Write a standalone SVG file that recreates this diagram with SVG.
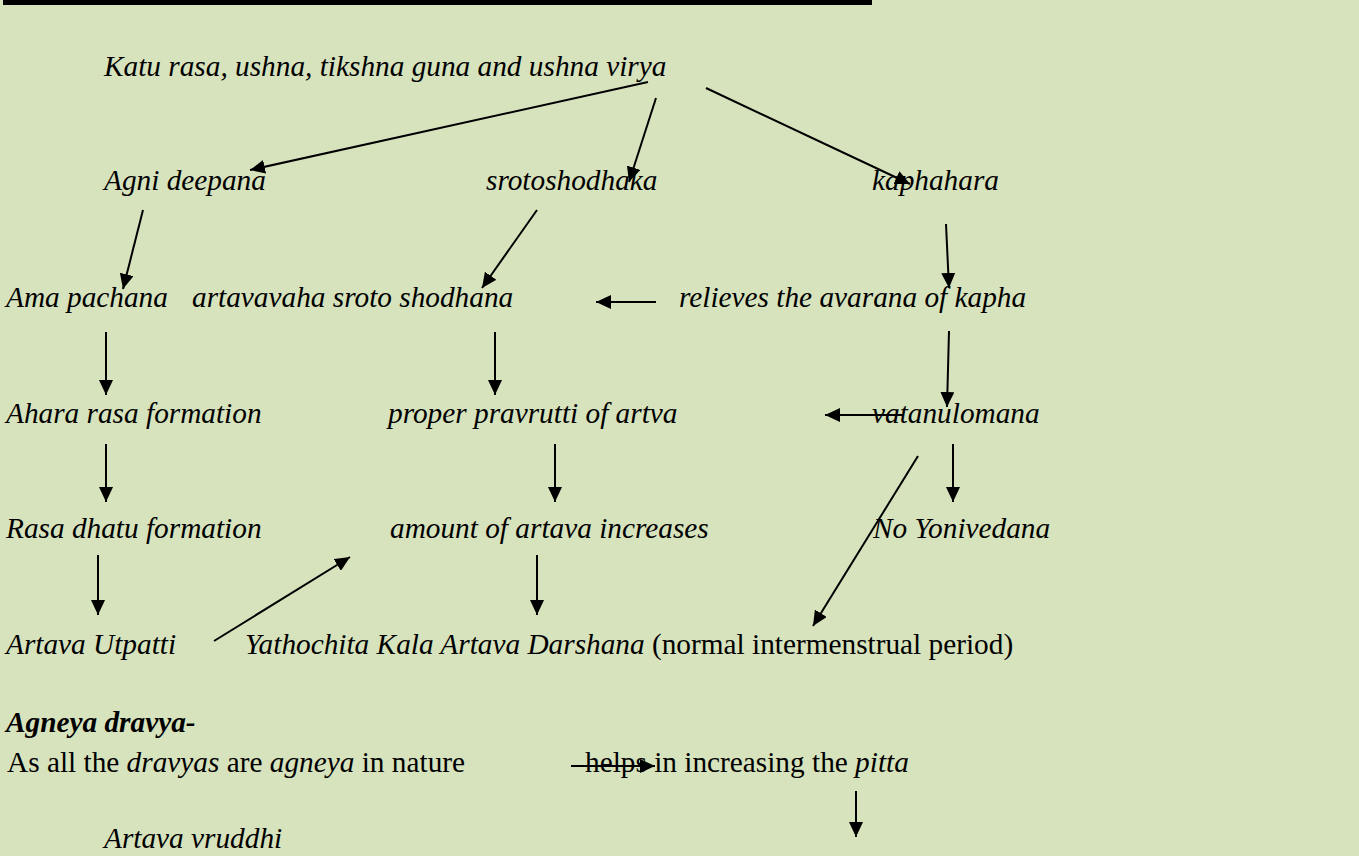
<svg xmlns="http://www.w3.org/2000/svg" width="1359" height="856" viewBox="0 0 1359 856">
<style>
text{font-family:"Liberation Serif","Times New Roman",serif;font-size:29.3px;fill:#000}
.i{font-style:italic}
.n{font-style:normal}
.b{font-weight:bold}
#connectors line{stroke:#000;stroke-width:2;marker-end:url(#ah)}
</style>
<defs>
<marker id="ah" markerUnits="userSpaceOnUse" markerWidth="16" markerHeight="14" refX="15" refY="7" orient="auto"><path d="M0,0L15,7L0,14z" fill="#000"/></marker>
</defs>
<rect width="1359" height="856" fill="#D7E3BD"/>
<rect x="3" y="0" width="869" height="5" fill="#000"/>

<g id="n-top"><text class="i" x="104" y="76">Katu rasa, ushna, tikshna guna and ushna virya</text></g>
<g id="n-agni"><text class="i" x="104" y="190">Agni deepana</text></g>
<g id="n-sroto"><text class="i" x="486" y="190">srotoshodhaka</text></g>
<g id="n-kapha"><text class="i" x="872" y="190">kaphahara</text></g>
<g id="n-ama"><text class="i" x="6" y="307">Ama pachana</text></g>
<g id="n-artavavaha"><text class="i" x="192" y="307">artavavaha sroto shodhana</text></g>
<g id="n-relieves"><text class="i" x="679" y="307">relieves the avarana of kapha</text></g>
<g id="n-ahara"><text class="i" x="6" y="423">Ahara rasa formation</text></g>
<g id="n-proper"><text class="i" x="388" y="423">proper pravrutti of artva</text></g>
<g id="n-vata"><text class="i" x="872" y="423">vatanulomana</text></g>
<g id="n-rasa"><text class="i" x="6" y="538">Rasa dhatu formation</text></g>
<g id="n-amount"><text class="i" x="390" y="538">amount of artava increases</text></g>
<g id="n-noyoni"><text class="i" x="873" y="538">No Yonivedana</text></g>
<g id="n-utpatti"><text class="i" x="6" y="654">Artava Utpatti</text></g>
<g id="n-yatho"><text x="245" y="654"><tspan class="i">Yathochita Kala Artava Darshana</tspan> (normal intermenstrual period)</text></g>
<g id="n-agneya"><text class="i b" x="6" y="732">Agneya dravya-</text></g>
<g id="n-asall"><text x="7" y="772">As all the <tspan class="i">dravyas</tspan> are <tspan class="i">agneya</tspan> in nature</text></g>
<g id="n-helps"><text x="585" y="772">helps in increasing the <tspan class="i">pitta</tspan></text></g>
<g id="n-vruddhi"><text class="i" x="104" y="848">Artava vruddhi</text></g>

<g id="connectors">
<line x1="648" y1="82" x2="250" y2="170"/>
<line x1="656" y1="98" x2="629" y2="182"/>
<line x1="706" y1="88" x2="910" y2="184"/>
<line x1="143" y1="210" x2="123" y2="289"/>
<line x1="537" y1="210" x2="482" y2="288"/>
<line x1="656" y1="302" x2="596" y2="302"/>
<line x1="946" y1="224" x2="949" y2="288"/>
<line x1="949" y1="331" x2="947" y2="407"/>
<line x1="903" y1="415" x2="825" y2="415"/>
<line x1="953" y1="444" x2="953" y2="502"/>
<line x1="918" y1="456" x2="813" y2="626"/>
<line x1="106" y1="332" x2="106" y2="395"/>
<line x1="495" y1="332" x2="495" y2="395"/>
<line x1="106" y1="444" x2="106" y2="502"/>
<line x1="555" y1="444" x2="555" y2="502"/>
<line x1="98" y1="555" x2="98" y2="615"/>
<line x1="214" y1="641" x2="350" y2="557"/>
<line x1="537" y1="555" x2="537" y2="615"/>
<line x1="571" y1="766" x2="655" y2="766"/>
<line x1="856" y1="791" x2="856" y2="837"/>
</g>
</svg>
